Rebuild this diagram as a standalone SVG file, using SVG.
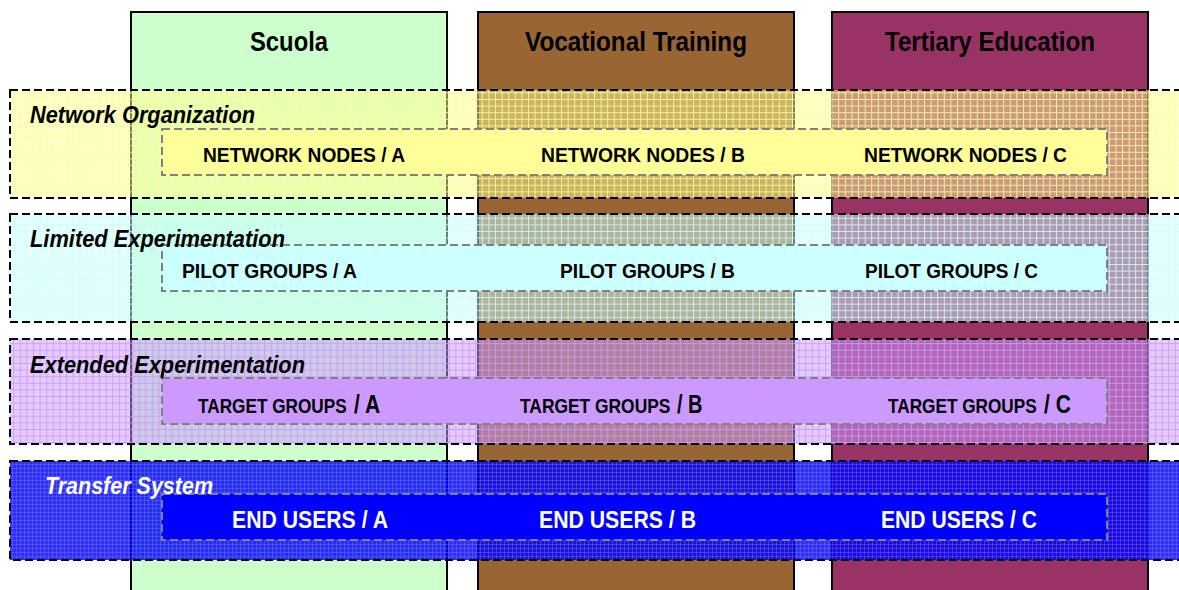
<svg xmlns="http://www.w3.org/2000/svg" width="1179" height="590" viewBox="0 0 1179 590">
<defs>
<style>
.col{stroke:#000;stroke-width:2}
.band{stroke:#000;stroke-width:2;stroke-dasharray:8 4}
.bar{stroke:#808080;stroke-width:2;stroke-dasharray:8 4}
text{font-family:"Liberation Sans",Arial,sans-serif;font-weight:bold}
.hd{font-size:28px;fill:#000}
.bl{font-size:24px;font-style:italic;fill:#000}
.in{font-size:21px;fill:#000}
.ts{font-size:20px;fill:#000}
.tb{font-size:25px;fill:#000}
.eu{font-size:24px;fill:#fff}
.w{fill:#fff}
</style>
<pattern id="pY" width="6.6" height="6.6" patternUnits="userSpaceOnUse">
<rect width="6.6" height="6.6" fill="#ffff99" fill-opacity="0.5"/>
<path d="M0 0.5H6.6M0.5 0V6.6" stroke="#ffff99" stroke-opacity="0.85" stroke-width="1"/>
</pattern>
<pattern id="pC" width="6.6" height="6.6" patternUnits="userSpaceOnUse">
<rect width="6.6" height="6.6" fill="#ccffff" fill-opacity="0.5"/>
<path d="M0 0.5H6.6M0.5 0V6.6" stroke="#ccffff" stroke-opacity="0.85" stroke-width="1"/>
</pattern>
<pattern id="pP" width="6.6" height="6.6" patternUnits="userSpaceOnUse">
<rect width="6.6" height="6.6" fill="#cc99ff" fill-opacity="0.5"/>
<path d="M0 0.5H6.6M0.5 0V6.6" stroke="#cc99ff" stroke-opacity="0.9" stroke-width="1"/>
</pattern>
<pattern id="pB" width="4" height="4" patternUnits="userSpaceOnUse">
<rect width="4" height="4" fill="#0000ff" fill-opacity="0.82"/>
<path d="M0 0.5H4M0.5 0V4" stroke="#8080ff" stroke-opacity="0.35" stroke-width="1"/>
</pattern>
</defs>
<rect width="1179" height="590" fill="#fff"/>

<g id="col-scuola">
<rect class="col" x="131" y="12" width="316" height="590" fill="#ccffcc"/>
<text class="hd" x="250" y="51" textLength="78" lengthAdjust="spacingAndGlyphs">Scuola</text>
</g>
<g id="col-vocational">
<rect class="col" x="478" y="12" width="316" height="590" fill="#996633"/>
<text class="hd" x="525" y="51" textLength="222" lengthAdjust="spacingAndGlyphs">Vocational Training</text>
</g>
<g id="col-tertiary">
<rect class="col" x="832" y="12" width="316" height="590" fill="#993366"/>
<text class="hd" x="885" y="51" textLength="210" lengthAdjust="spacingAndGlyphs">Tertiary Education</text>
</g>

<g id="band-network">
<rect class="band" x="10" y="90" width="1180" height="108" fill="url(#pY)"/>
</g>
<g id="band-limited">
<rect class="band" x="10" y="214" width="1180" height="108" fill="url(#pC)"/>
</g>
<g id="band-extended">
<rect class="band" x="10" y="339" width="1180" height="105" fill="url(#pP)"/>
</g>
<g id="band-transfer">
<rect class="band" x="10" y="461" width="1180" height="99" fill="url(#pB)"/>
</g>

<g id="bar-network">
<rect class="bar" x="162" y="129" width="945" height="46" fill="#ffff99"/>
<text class="in" x="203" y="162" textLength="202" lengthAdjust="spacingAndGlyphs">NETWORK NODES / A</text>
<text class="in" x="541" y="162" textLength="204" lengthAdjust="spacingAndGlyphs">NETWORK NODES / B</text>
<text class="in" x="864" y="162" textLength="203" lengthAdjust="spacingAndGlyphs">NETWORK NODES / C</text>
</g>
<g id="bar-pilot">
<rect class="bar" x="162" y="245" width="945" height="46" fill="#ccffff"/>
<text class="in" x="182" y="278" textLength="175" lengthAdjust="spacingAndGlyphs">PILOT GROUPS / A</text>
<text class="in" x="560" y="278" textLength="175" lengthAdjust="spacingAndGlyphs">PILOT GROUPS / B</text>
<text class="in" x="865" y="278" textLength="173" lengthAdjust="spacingAndGlyphs">PILOT GROUPS / C</text>
</g>
<g id="bar-target">
<rect class="bar" x="162" y="378" width="945" height="46" fill="#cc99ff"/>
<text class="ts" transform="translate(198 413) scale(0.86 1)">TARGET GROUPS</text>
<text class="tb" transform="translate(354 413) scale(0.84 1)">/ A</text>
<text class="ts" transform="translate(520 413) scale(0.87 1)">TARGET GROUPS</text>
<text class="tb" transform="translate(677 413) scale(0.8 1)">/ B</text>
<text class="ts" transform="translate(888 413) scale(0.86 1)">TARGET GROUPS</text>
<text class="tb" transform="translate(1044 413) scale(0.84 1)">/ C</text>
</g>
<g id="bar-endusers">
<rect class="bar" x="162" y="494" width="945" height="46" fill="#0000ff"/>
<text class="eu" x="232" y="528" textLength="156" lengthAdjust="spacingAndGlyphs">END USERS / A</text>
<text class="eu" x="539" y="528" textLength="157" lengthAdjust="spacingAndGlyphs">END USERS / B</text>
<text class="eu" x="881" y="528" textLength="156" lengthAdjust="spacingAndGlyphs">END USERS / C</text>
</g>

<g id="band-labels">
<text class="bl" x="30" y="123" textLength="225" lengthAdjust="spacingAndGlyphs">Network Organization</text>
<text class="bl" x="30" y="247" textLength="255" lengthAdjust="spacingAndGlyphs">Limited Experimentation</text>
<text class="bl" x="30" y="373" textLength="275" lengthAdjust="spacingAndGlyphs">Extended Experimentation</text>
<text class="bl w" x="45" y="494" textLength="168" lengthAdjust="spacingAndGlyphs">Transfer System</text>
</g>

<g id="connectors"/>
</svg>
